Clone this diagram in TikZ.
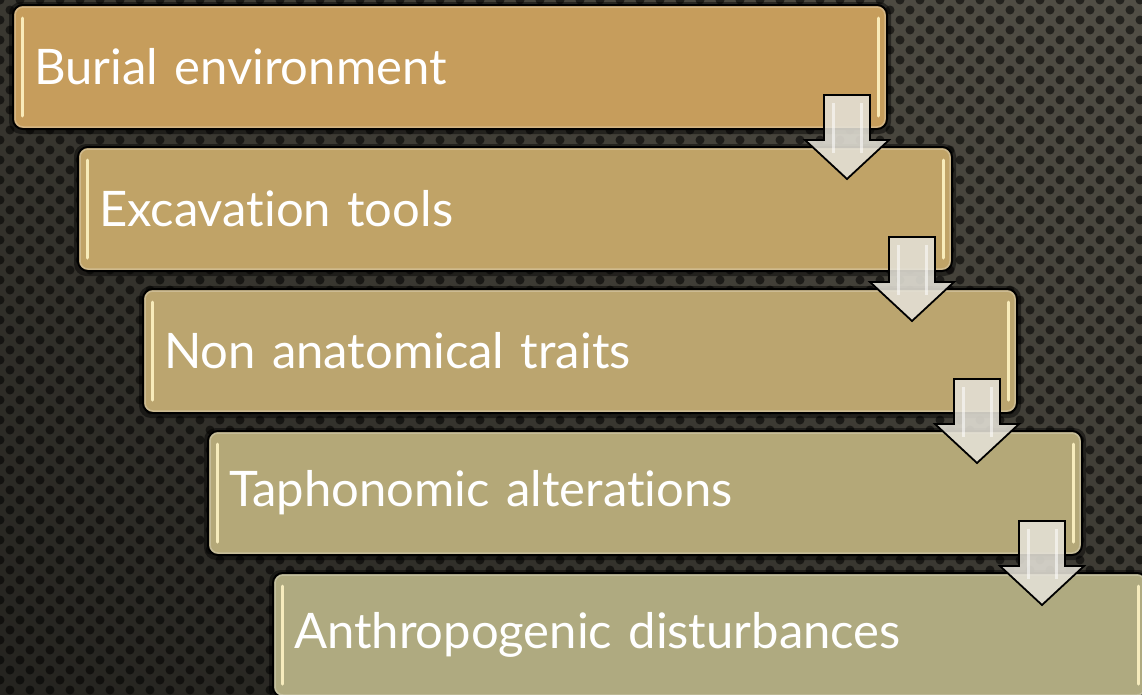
\documentclass[tikz,border=0pt]{standalone}
\usepackage{fontspec}
\setmainfont{Lato}[Ligatures=NoCommon]
\usetikzlibrary{calc,shadings}
\definecolor{bgUR}{RGB}{82,79,70}
\definecolor{bgMid}{RGB}{58,56,49}
\definecolor{bgLL}{RGB}{36,35,31}
\definecolor{cA}{RGB}{198,157,92}
\definecolor{cB}{RGB}{192,163,103}
\definecolor{cC}{RGB}{187,165,111}
\definecolor{cD}{RGB}{180,168,120}
\definecolor{cE}{RGB}{175,170,128}
\definecolor{hlcol}{RGB}{255,244,196}
\definecolor{arrcol}{RGB}{228,225,215}
\tikzset{
  stepbox/.style={draw=black, line width=2pt, rounded corners=10pt, anchor=north west,
    minimum width=874pt, minimum height=124pt, text width=832pt, inner xsep=21pt,
    align=left, text=white, font=\fontsize{49}{56}\selectfont},
  boxshadow/.style={fill=black, opacity=0.45, rounded corners=12pt},
  hl/.style={draw=hlcol, line width=3pt, line cap=round, opacity=0.9},
  innerglow/.style={draw=white, line width=1.5pt, opacity=0.25, rounded corners=8pt},
  downarrow/.style={fill=arrcol, fill opacity=0.88, draw=black, line width=1.8pt, line join=miter},
  shaftlight/.style={draw=white, line width=3pt, opacity=0.55},
  bgdot/.style={fill=black, opacity=0.55}
}
\begin{document}
\begin{tikzpicture}[x=1pt,y=-1pt]
\useasboundingbox (0,0) rectangle (1142,694);
\shade[upper right=bgUR, upper left=bgMid, lower right=bgMid, lower left=bgLL] (-2,-2) rectangle (1144,696);
\foreach \i in {0,...,57}{
  \foreach \j in {0,...,34}{
    \fill[bgdot] (\i*20,\j*20) circle (4.5);
    \fill[bgdot] (\i*20+10,\j*20+10) circle (4.5);
  }
}
\foreach \k/\col/\txt in {0/cA/Burial environment, 1/cB/Excavation tools, 2/cC/Non anatomical traits, 3/cD/Taphonomic alterations, 4/cE/Anthropogenic disturbances}{
  \pgfmathsetmacro\bx{12+65*\k}
  \pgfmathsetmacro\by{4+142*\k}
  \fill[boxshadow] (\bx-3,\by-2) rectangle ++(882,132);
  \node[stepbox, fill=\col] (b\k) at (\bx,\by) {\txt};
  \draw[innerglow] ($(b\k.north west)+(3,3)$) rectangle ($(b\k.south east)+(-3,-3)$);
  \draw[hl] ($(b\k.north west)+(10,14)$) -- ($(b\k.south west)+(10,-14)$);
  \draw[hl] ($(b\k.north east)+(-10,14)$) -- ($(b\k.south east)+(-10,-14)$);
}
\foreach \k in {0,1,2,3}{
  \coordinate (a\k) at ($(b\k.south east)+(-41,-35)$);
  \draw[downarrow] ($(a\k)+(-23,0)$) -- ($(a\k)+(23,0)$) -- ($(a\k)+(23,45)$)
     -- ($(a\k)+(42,45)$) -- ($(a\k)+(0,84)$) -- ($(a\k)+(-42,45)$)
     -- ($(a\k)+(-23,45)$) -- cycle;
  \draw[shaftlight] ($(a\k)+(-14,8)$) -- ($(a\k)+(-14,58)$);
  \draw[shaftlight] ($(a\k)+(14,8)$) -- ($(a\k)+(14,58)$);
}
\end{tikzpicture}
\end{document}
